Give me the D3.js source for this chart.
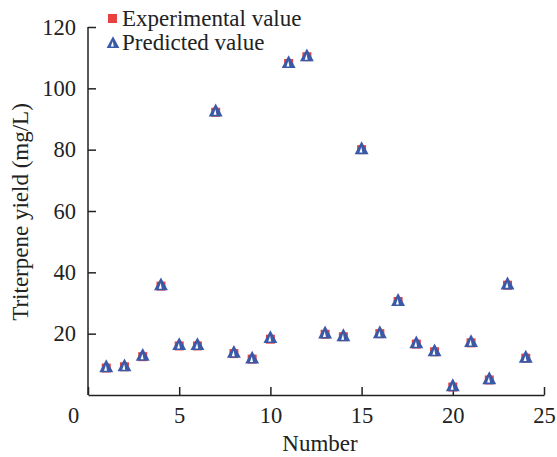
<!DOCTYPE html>
<html>
<head>
<meta charset="utf-8">
<title>triterpene</title>
<style>
  body { margin: 0; background: #fff; }
  text { font-family: "Liberation Serif", "Times New Roman", serif; fill: #222; }
</style>
</head>
<body>
<div id="chart"></div>
<script src="https://cdn.jsdelivr.net/npm/d3@7"></script>
<script>

// data
var runNo = [1, 2, 3, 4, 5, 6, 7, 8, 9, 10, 11, 12, 13, 14, 15, 16, 17, 18, 19, 20, 21, 22, 23, 24];
var experimental = [8.8, 9.2, 12.5, 35.5, 16.0, 16.0, 92.2, 13.5, 11.7, 18.2, 108.1, 110.3, 19.8, 19.0, 80.0, 20.0, 30.5, 16.6, 14.1, 2.6, 17.0, 4.9, 35.8, 12.0];
var predicted = [9.2, 9.5, 12.9, 35.9, 16.4, 16.4, 92.6, 13.9, 12.0, 18.7, 108.4, 110.6, 20.2, 19.3, 80.3, 20.3, 30.8, 17.0, 14.4, 3.0, 17.4, 5.3, 36.2, 12.3];
var xTicks = [0, 5, 10, 15, 20, 25];
var yTicks = [20, 40, 60, 80, 100, 120];
var seriesNames = ['Experimental value', 'Predicted value'];

var W = 557, H = 457;
var mLeft = 88, mTop = 27, mRight = 544, mBottom = 395;
var red = '#e8413f', blue = '#3a5aa8';

var svg = d3.select('#chart').append('svg')
  .attr('width', W).attr('height', H);

var x = d3.scaleLinear().domain([0, 25]).range([mLeft, mRight]);
var y = d3.scaleLinear().domain([0, 120]).range([mBottom, mTop]);

// axes (ticks inside)
var xAxis = svg.append('g')
  .attr('transform', 'translate(0,' + mBottom + ')')
  .call(d3.axisBottom(x).tickValues(xTicks).tickSizeInner(-8).tickSizeOuter(0).tickPadding(12));
var yAxis = svg.append('g')
  .attr('transform', 'translate(' + mLeft + ',0)')
  .call(d3.axisLeft(y).tickValues(yTicks).tickSizeInner(-8).tickSizeOuter(0).tickPadding(12));

[xAxis, yAxis].forEach(function(g) {
  g.attr('font-family', null);
  g.select('.domain').attr('stroke', '#222').attr('stroke-width', 1.5);
  g.selectAll('.tick line').attr('stroke', '#222').attr('stroke-width', 1.5);
  g.selectAll('.tick text').style('font-size', '22.5px').style('font-family', '"Liberation Serif", serif').attr('fill', '#222');
});
yAxis.select('.domain').attr('d', 'M0,' + mBottom + 'V' + mTop);
xAxis.selectAll('.tick text').filter(function(d) { return d === 0; }).attr('dx', -15);

// axis titles
svg.append('text')
  .attr('x', (mLeft + mRight) / 2 + 4).attr('y', 451)
  .attr('text-anchor', 'middle')
  .style('font-size', '23px')
  .text('Number');
svg.append('text')
  .attr('transform', 'translate(28,' + 212 + ') rotate(-90)')
  .attr('text-anchor', 'middle')
  .style('font-size', '23px')
  .text('Triterpene yield (mg/L)');

// markers
var sq = 9;
function triPath(cx, cy, s) {
  return 'M' + cx + ',' + (cy - s * 0.62) + 'L' + (cx + s * 0.58) + ',' + (cy + s * 0.45) + 'L' + (cx - s * 0.58) + ',' + (cy + s * 0.45) + 'Z';
}
function sliver(cx, cy, s) {
  return 'M' + (cx - 0.3) + ',' + (cy - s * 0.15) + 'L' + (cx + 0.8) + ',' + (cy + s * 0.32) + 'L' + (cx - 2.2) + ',' + (cy + s * 0.32) + 'Z';
}

svg.append('g').selectAll('rect')
  .data(runNo)
  .join('rect')
  .attr('x', function(d, i) { return x(d) - sq / 2; })
  .attr('y', function(d, i) { return y(experimental[i]) - sq / 2; })
  .attr('width', sq).attr('height', sq)
  .attr('fill', red);

var tri = svg.append('g').selectAll('g')
  .data(runNo)
  .join('g');
tri.append('path')
  .attr('d', function(d, i) { return triPath(x(d), y(predicted[i]), 12); })
  .attr('fill', blue);
tri.append('path')
  .attr('d', function(d, i) { return sliver(x(d), y(predicted[i]), 12); })
  .attr('fill', '#fff');

// legend
var lg = svg.append('g');
lg.append('rect').attr('x', 108).attr('y', 14).attr('width', sq).attr('height', sq).attr('fill', red);
lg.append('path').attr('d', triPath(113, 43, 11)).attr('fill', blue);
lg.append('path').attr('d', sliver(113, 43, 11)).attr('fill', '#fff');
lg.selectAll('text')
  .data(seriesNames)
  .join('text')
  .attr('x', 122)
  .attr('y', function(d, i) { return 26 + i * 24; })
  .style('font-size', '23px')
  .text(function(d) { return d; });

</script>
</body>
</html>
